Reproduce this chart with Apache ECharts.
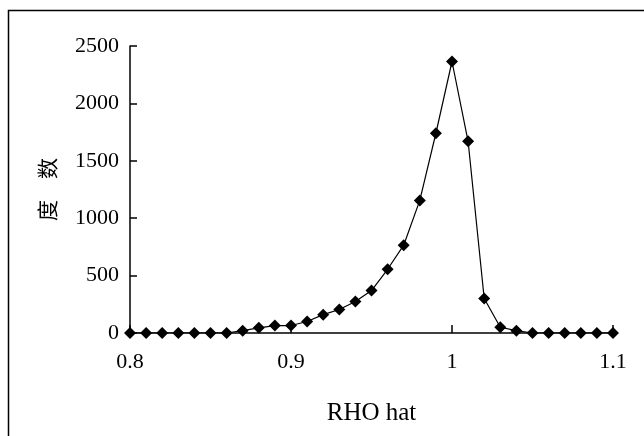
<!DOCTYPE html>
<html>
<head>
<meta charset="utf-8">
<script src="https://cdn.jsdelivr.net/npm/echarts@6/dist/echarts.min.js"></script>
<style>
    html, body { margin: 0; padding: 0; background: #fff; }
    #chart { width: 644px; height: 436px; }
</style>
</head>
<body>
<div id="chart"></div>
<script>
// RHO hat 取值
var rhoValues = [
    0.80, 0.81, 0.82, 0.83, 0.84, 0.85, 0.86, 0.87, 0.88, 0.89, 0.90,
    0.91, 0.92, 0.93, 0.94, 0.95, 0.96, 0.97, 0.98, 0.99, 1.00,
    1.01, 1.02, 1.03, 1.04, 1.05, 1.06, 1.07, 1.08, 1.09, 1.10
];
// 度数
var counts = [
    0, 0, 0, 0, 0, 0, 0, 20, 45, 65, 65,
    100, 160, 205, 275, 370, 555, 765, 1155, 1740, 2365,
    1670, 300, 50, 20, 0, 0, 0, 0, 0, 0
];
var yTicks = [0, 500, 1000, 1500, 2000, 2500];

var seriesData = rhoValues.map(function (x, i) {
    return [x, counts[i]];
});

var serif = '"Liberation Serif", "Times New Roman", serif';

var chart = echarts.init(document.getElementById('chart'));
var option = {
    animation: false,
    backgroundColor: '#fff',
    grid: {
        left: 130,
        top: 46,
        right: 31,
        bottom: 103
    },
    graphic: [
        {
            // 外框
            type: 'rect',
            shape: { x: 8.5, y: 10.5, width: 700, height: 500 },
            style: { fill: null, stroke: '#000', lineWidth: 1.5 },
            silent: true
        }
    ],
    xAxis: {
        type: 'value',
        min: 0.8,
        max: 1.1,
        interval: 0.1,
        name: 'RHO hat',
        nameLocation: 'middle',
        nameGap: 68,
        nameTextStyle: {
            fontFamily: serif,
            fontSize: 25,
            color: '#000'
        },
        axisLine: {
            show: true,
            onZero: false,
            lineStyle: { color: '#000', width: 1.5 }
        },
        axisTick: {
            show: true,
            inside: true,
            length: 8,
            lineStyle: { color: '#000', width: 1.5 }
        },
        axisLabel: {
            margin: 18,
            fontFamily: serif,
            fontSize: 22,
            color: '#000',
            formatter: function (v) {
                return String(Math.round(v * 10) / 10);
            }
        },
        splitLine: { show: false }
    },
    yAxis: {
        type: 'value',
        min: yTicks[0],
        max: yTicks[yTicks.length - 1],
        interval: 500,
        name: '度\u3000数',
        nameLocation: 'middle',
        nameRotate: 90,
        nameGap: 72,
        nameTextStyle: {
            fontFamily: '"Noto Sans CJK SC", sans-serif',
            fontSize: 21,
            color: '#000'
        },
        axisLine: {
            show: true,
            lineStyle: { color: '#000', width: 1.5 }
        },
        axisTick: {
            show: true,
            inside: true,
            length: 7,
            lineStyle: { color: '#000', width: 1.5 }
        },
        axisLabel: {
            margin: 11,
            fontFamily: serif,
            fontSize: 22,
            color: '#000',
            formatter: function (v) {
                return String(v);
            }
        },
        splitLine: { show: false }
    },
    series: [
        {
            type: 'line',
            data: seriesData,
            symbol: 'diamond',
            symbolSize: 12,
            showAllSymbol: true,
            itemStyle: { color: '#000' },
            lineStyle: { color: '#000', width: 1.2 },
            z: 3
        }
    ]
};
chart.setOption(option);
</script>
</body>
</html>
